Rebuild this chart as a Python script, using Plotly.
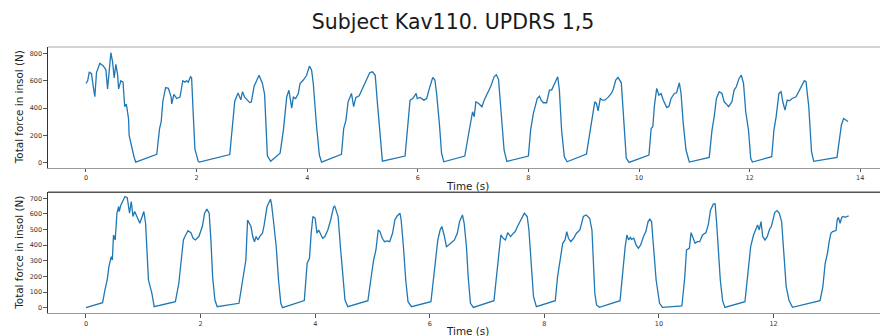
import plotly.graph_objects as go

# Gait recording: total insole force over time, two feet
title_text = "Subject Kav110. UPDRS 1,5"
y_label = "Total force in insol (N)"
x_label = "Time (s)"

top_time = [
    0.00, 0.03, 0.06, 0.10, 0.13, 0.16, 0.19, 0.22, 0.25, 0.31, 0.36, 0.39, 0.42, 0.45, 0.48, 0.51, 0.54,
    0.57, 0.59, 0.63, 0.67, 0.70, 0.73, 0.77, 0.78, 0.83, 0.87, 0.90,
    1.28, 1.33, 1.36, 1.39, 1.44, 1.49, 1.54, 1.55, 1.59, 1.64, 1.70, 1.75, 1.79, 1.82, 1.85, 1.89, 1.91,
    1.94, 1.97, 2.03, 2.05,
    2.60, 2.69, 2.75, 2.80, 2.83, 2.87, 2.96, 2.99, 3.04, 3.11, 3.13, 3.19, 3.23, 3.28, 3.34,
    3.51, 3.57, 3.63, 3.67, 3.72, 3.75, 3.79, 3.84, 3.87, 3.93, 3.99, 4.04, 4.08, 4.11, 4.17, 4.22, 4.26,
    4.62, 4.66, 4.70, 4.74, 4.80, 4.84, 4.88, 4.94, 5.00, 5.06, 5.13, 5.18, 5.23, 5.27, 5.32, 5.36,
    5.77, 5.82, 5.86, 5.91, 5.97, 5.99, 6.04, 6.11, 6.16, 6.21, 6.27, 6.31, 6.34, 6.39, 6.43, 6.47,
    6.85, 6.91, 6.95, 6.99, 7.02, 7.05, 7.10, 7.16, 7.20, 7.26, 7.32, 7.38, 7.42, 7.46, 7.52, 7.56, 7.61,
    8.00, 8.04, 8.09, 8.16, 8.20, 8.23, 8.27, 8.33, 8.38, 8.42, 8.47, 8.53, 8.56, 8.60, 8.65, 8.70,
    9.05, 9.10, 9.12, 9.16, 9.20, 9.23, 9.26, 9.30, 9.34, 9.38, 9.44, 9.50, 9.53, 9.58, 9.62, 9.68, 9.71,
    9.74, 9.77, 9.82,
    10.18, 10.22, 10.25, 10.28, 10.32, 10.36, 10.40, 10.44, 10.50, 10.54, 10.58, 10.64, 10.68, 10.73,
    10.76, 10.80, 10.85, 10.91,
    11.27, 11.32, 11.36, 11.40, 11.45, 11.50, 11.54, 11.57, 11.62, 11.68, 11.72, 11.76, 11.81, 11.85,
    11.89, 11.93, 11.98, 12.02, 12.05,
    12.40, 12.44, 12.48, 12.53, 12.57, 12.60, 12.64, 12.68, 12.72, 12.77, 12.84, 12.89, 12.94, 12.99,
    13.02, 13.07, 13.12, 13.16,
    13.58, 13.62, 13.66, 13.70, 13.74, 13.78,
]
top_force = [
    580, 600, 665, 650, 560, 483, 660, 690, 727, 710, 680, 540, 700, 805, 740, 620, 720,
    650, 540, 600, 590, 410, 430, 320, 200, 100, 40, 5,
    61, 250, 300, 450, 550, 545, 480, 430, 500, 470, 480, 600, 590, 600, 590, 630, 620,
    350, 100, 10, 5,
    60, 450, 510, 460, 520, 480, 440, 445, 560, 630, 640, 580, 500, 50, 10,
    70, 240, 483, 530, 400, 480, 470, 507, 580, 605, 640, 707, 678, 580, 263, 56, 5,
    61, 250, 310, 446, 507, 410, 478, 490, 544, 605, 658, 666, 640, 434, 166, 12,
    49, 263, 458, 470, 507, 470, 478, 458, 470, 544, 624, 605, 507, 288, 68, 7,
    49, 190, 275, 373, 337, 446, 434, 410, 458, 507, 560, 629, 644, 610, 337, 93, 10,
    49, 239, 361, 470, 487, 458, 439, 439, 532, 532, 580, 629, 532, 239, 44, 7,
    63, 190, 251, 361, 446, 434, 380, 470, 458, 458, 478, 507, 532, 605, 624, 585, 410,
    190, 32, 2,
    56, 251, 263, 422, 544, 495, 507, 458, 405, 410, 470, 507, 512, 585,
    507, 288, 93, 5,
    39, 239, 337, 470, 520, 507, 446, 434, 410, 446, 532, 556, 617, 641,
    580, 373, 239, 32, 5,
    44, 239, 337, 507, 520, 446, 385, 458, 453, 470, 483, 520, 568, 600,
    593, 410, 80, 10,
    39, 141, 276, 324, 312, 302,
]

bottom_time = [
    0.00, 0.29, 0.33, 0.37, 0.40, 0.44, 0.46, 0.48, 0.51, 0.54, 0.57, 0.58, 0.61, 0.65, 0.68, 0.72, 0.76,
    0.79, 0.82, 0.85, 0.89, 0.94, 0.98, 1.01, 1.04, 1.06, 1.09, 1.15, 1.19,
    1.56, 1.62, 1.65, 1.70, 1.74, 1.78, 1.83, 1.87, 1.91, 1.97, 2.03, 2.07, 2.11, 2.15, 2.18, 2.21, 2.25, 2.29,
    2.67, 2.71, 2.74, 2.79, 2.82, 2.85, 2.88, 2.91, 2.94, 2.97, 3.00, 3.04, 3.08, 3.11, 3.16, 3.22, 3.24,
    3.27, 3.32, 3.36, 3.40, 3.43,
    3.81, 3.86, 3.90, 3.93, 3.96, 4.00, 4.03, 4.06, 4.09, 4.13, 4.17, 4.22, 4.27, 4.32, 4.34, 4.37, 4.40,
    4.44, 4.48, 4.52, 4.57,
    4.92, 4.97, 5.02, 5.06, 5.10, 5.13, 5.17, 5.21, 5.26, 5.30, 5.35, 5.39, 5.43, 5.48, 5.50, 5.54, 5.58,
    5.62, 5.68,
    6.02, 6.06, 6.10, 6.14, 6.18, 6.21, 6.25, 6.29, 6.33, 6.39, 6.43, 6.48, 6.52, 6.57, 6.60, 6.64, 6.67,
    6.71, 6.76,
    7.12, 7.16, 7.20, 7.24, 7.28, 7.32, 7.36, 7.41, 7.45, 7.49, 7.53, 7.59, 7.65, 7.70, 7.73, 7.77, 7.81, 7.86,
    8.19, 8.23, 8.28, 8.32, 8.36, 8.39, 8.42, 8.46, 8.51, 8.56, 8.62, 8.68, 8.73, 8.79, 8.83, 8.85, 8.88,
    8.91, 8.96,
    9.32, 9.35, 9.38, 9.41, 9.44, 9.47, 9.50, 9.52, 9.56, 9.60, 9.64, 9.68, 9.73, 9.77, 9.81, 9.84, 9.87,
    9.91, 9.95, 10.01, 10.06,
    10.40, 10.45, 10.48, 10.53, 10.56, 10.59, 10.63, 10.67, 10.71, 10.76, 10.82, 10.86, 10.90, 10.95,
    10.98, 11.01, 11.04, 11.07, 11.11, 11.15,
    11.50, 11.53, 11.56, 11.60, 11.65, 11.69, 11.72, 11.75, 11.78, 11.81, 11.85, 11.89, 11.93, 11.96,
    11.99, 12.02, 12.06, 12.10, 12.14, 12.17, 12.22, 12.27, 12.33,
    12.81, 12.86, 12.90, 12.94, 12.97, 13.00, 13.03, 13.09, 13.11, 13.13, 13.16, 13.19, 13.22, 13.25,
    13.28, 13.31,
]
bottom_force = [
    0, 32, 113, 177, 262, 326, 305, 465, 433, 604, 647, 615, 657, 689, 711, 704, 604,
    679, 583, 615, 583, 540, 583, 615, 540, 390, 177, 92, 6,
    38, 156, 262, 433, 465, 493, 480, 444, 433, 455, 519, 604, 630, 604, 433, 198, 49, 6,
    28, 113, 198, 305, 561, 540, 519, 455, 422, 455, 433, 459, 476, 529, 647, 694, 657,
    561, 390, 177, 28, 0,
    45, 284, 316, 476, 583, 572, 476, 497, 476, 444, 455, 497, 561, 642, 651, 615, 583,
    390, 198, 49, 6,
    45, 177, 305, 369, 497, 487, 444, 422, 427, 422, 476, 561, 587, 604, 561, 390, 177,
    38, 6,
    38, 177, 305, 433, 497, 519, 465, 390, 401, 422, 433, 476, 551, 593, 540, 390, 198,
    28, 2,
    45, 177, 305, 465, 444, 433, 480, 455, 472, 487, 519, 561, 604, 583, 497, 284, 70, 6,
    45, 198, 326, 412, 433, 487, 444, 422, 444, 476, 497, 583, 593, 572, 497, 284, 92,
    17, 2,
    45, 177, 294, 390, 465, 433, 450, 437, 444, 401, 380, 401, 455, 487, 551, 566, 551,
    390, 177, 28, 2,
    11, 198, 369, 380, 480, 444, 412, 422, 422, 465, 480, 529, 625, 664,
    664, 519, 348, 177, 45, 2,
    38, 134, 241, 390, 465, 502, 529, 497, 551, 455, 433, 455, 502, 519,
    566, 608, 621, 604, 551, 390, 134, 45, 2,
    45, 134, 284, 348, 422, 476, 487, 493, 561, 578, 540, 578, 583, 578,
    583, 587,
]

top_yticks = [0, 200, 400, 600, 800]
bottom_yticks = [0, 100, 200, 300, 400, 500, 600, 700]
top_xticks = [0, 2, 4, 6, 8, 10, 12, 14]
bottom_xticks = [0, 2, 4, 6, 8, 10, 12]

W, H = 880, 336
ML = 48
FONT = "DejaVu Sans"
LINE = "#1f77b4"

# panel boxes in pixels (top, bottom)
top_box = (47.0, 167.5)
bot_box = (192.3, 313.3)


def ydom(box):
    return [1 - box[1] / H, 1 - box[0] / H]


def xpaper(px):
    return (px - ML) / (W - ML)


fig = go.Figure()
fig.add_trace(go.Scatter(x=top_time, y=top_force, mode="lines",
                         line=dict(color=LINE, width=1.3), xaxis="x", yaxis="y",
                         hoverinfo="skip", showlegend=False))
fig.add_trace(go.Scatter(x=bottom_time, y=bottom_force, mode="lines",
                         line=dict(color=LINE, width=1.3), xaxis="x2", yaxis="y2",
                         hoverinfo="skip", showlegend=False))

tick_font = dict(family=FONT, size=6.5, color="#333333")
common_x = dict(showgrid=False, zeroline=False, ticks="outside", ticklen=3.5, tickwidth=0.8,
                tickcolor="#555555", tickfont=tick_font, showline=True, linecolor="#9a9a9a",
                linewidth=1.2, mirror=False, automargin=False)
common_y = dict(showgrid=False, zeroline=False, ticks="outside", ticklen=3.5, tickwidth=0.8,
                tickcolor="#555555", tickfont=tick_font, showline=True, linecolor="#333333",
                linewidth=1.2, mirror=False, automargin=False)

fig.update_layout(
    width=W, height=H,
    margin=dict(l=ML, r=0, t=0, b=0),
    paper_bgcolor="white", plot_bgcolor="white",
    xaxis=dict(common_x, domain=[0, 1], anchor="y", range=[-0.687, 14.358],
               tickvals=top_xticks, ticktext=[str(v) for v in top_xticks]),
    yaxis=dict(common_y, domain=ydom(top_box), anchor="x", range=[-35, 847],
               tickvals=top_yticks, ticktext=[str(v) for v in top_yticks]),
    xaxis2=dict(common_x, domain=[0, 1], anchor="y2", range=[-0.663, 13.857],
                tickvals=bottom_xticks, ticktext=[str(v) for v in bottom_xticks]),
    yaxis2=dict(common_y, domain=ydom(bot_box), anchor="x2", range=[-36, 738],
                tickvals=bottom_yticks, ticktext=[str(v) for v in bottom_yticks]),
    title=dict(text=title_text, x=453 / W, xref="container", xanchor="center",
               y=1 - 21.5 / H, yref="container", yanchor="middle",
               font=dict(family=FONT, size=20.5, color="#1a1a1a")),
)

# top edges of both panels
fig.add_shape(type="line", xref="paper", yref="paper", x0=0, x1=1,
              y0=1 - top_box[0] / H, y1=1 - top_box[0] / H,
              line=dict(color="#d2d2d2", width=2.2))
fig.add_shape(type="line", xref="paper", yref="paper", x0=0, x1=1,
              y0=1 - bot_box[0] / H, y1=1 - bot_box[0] / H,
              line=dict(color="#555555", width=1.4))

label_font = dict(family=FONT, size=10.4, color="#222222")
for box in (top_box, bot_box):
    fig.add_annotation(text=y_label, textangle=-90, xref="paper", yref="paper",
                       x=xpaper(19), y=1 - (box[0] + box[1]) / 2 / H,
                       xanchor="center", yanchor="middle", showarrow=False, font=label_font)
for ypx in (186.0, 330.5):
    fig.add_annotation(text=x_label, xref="paper", yref="paper",
                       x=xpaper(467), y=1 - ypx / H, xanchor="center", yanchor="middle",
                       showarrow=False, font=label_font)

fig.write_html("out.html")
